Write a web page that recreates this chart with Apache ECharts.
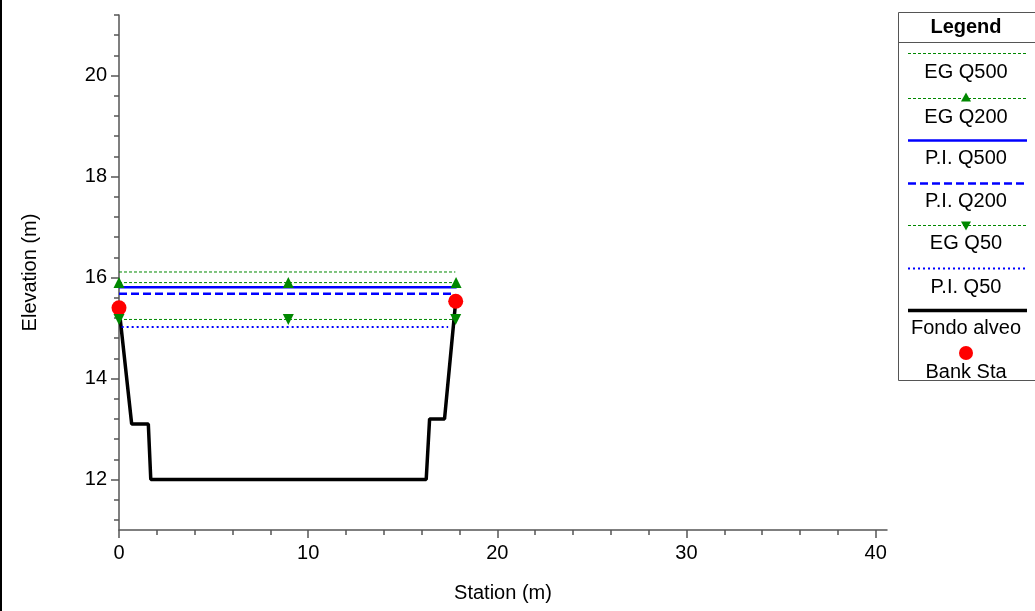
<!DOCTYPE html>
<html>
<head>
<meta charset="utf-8">
<script src="https://cdn.jsdelivr.net/npm/echarts@6/dist/echarts.min.js"></script>
<style>
html,body{margin:0;padding:0;background:#fff;}
#chart{width:1035px;height:611px;}
</style>
</head>
<body>
<div id="chart"></div>
<script>
// ---- data ----
const groundStation = [0, 0.67, 1.55, 1.68, 16.24, 16.42, 17.21, 17.8];
const groundElev    = [15.40, 13.10, 13.10, 12.0, 12.0, 13.20, 13.20, 15.53];
const bankStation = [0, 17.8];
const bankElev    = [15.40, 15.53];
const egQ500Station = [0, 17.78];
const egQ500Elev = 16.11;
const egQ200Station = [0, 8.95, 17.82];
const egQ200Elev = 15.90;
const piQ500Station = [0, 17.85];
const piQ500Elev = 15.81;
const piQ200Station = [0, 17.6];
const piQ200Elev = 15.68;
const egQ50Station = [0, 8.95, 17.8];
const egQ50Elev = 15.17;
const piQ50Station = [0.14, 17.4];
const piQ50Elev = 15.02;
const xMajorTicks = [0, 10, 20, 30, 40];
const yMajorTicks = [12, 14, 16, 18, 20];
const legendNames = ['EG Q500','EG Q200','P.I. Q500','P.I. Q200','EG Q50','P.I. Q50','Fondo alveo','Bank Sta'];

// ---- helpers ----
const FONT = '"Liberation Sans", Arial, sans-serif';
function pairs(xs, ys){ return xs.map((x,i)=>[x, Array.isArray(ys)? ys[i] : ys]); }
function minorTicks(min, max, step, majors){
  const out=[]; const n=Math.round((max-min)/step);
  for(let i=0;i<=n;i++){ const v=+(min+i*step).toFixed(4); if(!majors.some(m=>Math.abs(m-v)<1e-6)) out.push(v);} return out;
}
const xMinor = minorTicks(0, 40, 2, xMajorTicks);
const yMinor = minorTicks(11.2, 21.2, 0.4, yMajorTicks);
const axisCol = '#555';
const GREEN = '#008800', BLUE = '#0000ff';

const chart = echarts.init(document.getElementById('chart'), null, {renderer:'canvas'});

const styles = {
  'EG Q500': {color:GREEN, width:1, type:[3,2], symbol:'none'},
  'EG Q200': {color:GREEN, width:1, type:[3,2], symbol:'triangle', rot:0},
  'P.I. Q500': {color:BLUE, width:2.5, type:'solid', symbol:'none'},
  'P.I. Q200': {color:BLUE, width:2.5, type:[8,4], symbol:'none'},
  'EG Q50': {color:GREEN, width:1, type:[3,2], symbol:'triangle', rot:180},
  'P.I. Q50': {color:BLUE, width:2, type:[2,3], symbol:'none'},
  'Fondo alveo': {color:'#000', width:3.5, type:'solid', symbol:'none'}
};
function lineSeries(name, data){
  const s = styles[name];
  return {name, type:'line', data, xAxisIndex:0, yAxisIndex:0, animation:false,
    symbol:s.symbol, symbolSize:11, symbolRotate:s.rot||0, showSymbol:s.symbol!=='none',
    itemStyle:{color:s.color, opacity:1}, lineStyle:{color:s.color, width:s.width, type:s.type}, z:3};
}

// ---- legend graphics ----
const LX0 = 908, LX1 = 1027, LCX = 966;
const legRows = [[53,72],[98,117],[140,158],[183,201],[225,243],[268,287],[310,328],[353,372]];
const graphics = [
  {type:'line', shape:{x1:1,y1:0,x2:1,y2:611}, style:{stroke:'#000', lineWidth:2}},
  {type:'rect', shape:{x:898.5,y:12.5,width:140,height:368}, style:{fill:'#fff', stroke:'#555', lineWidth:1}},
  {type:'line', shape:{x1:898.5,y1:42.5,x2:1035,y2:42.5}, style:{stroke:'#555', lineWidth:1}},
  {type:'text', x:LCX, y:27, style:{text:'Legend', font:'bold 20px '+FONT, fill:'#000', align:'center', verticalAlign:'middle'}}
];
legendNames.forEach((nm, i)=>{
  const [ly, ty] = legRows[i];
  if (nm === 'Bank Sta') {
    graphics.push({type:'circle', shape:{cx:LCX, cy:ly, r:7}, style:{fill:'#ff0000'}});
  } else {
    const s = styles[nm];
    graphics.push({type:'line', shape:{x1:LX0,y1:ly+0.5,x2:LX1,y2:ly+0.5},
      style:{stroke:s.color, lineWidth:s.width, lineDash: Array.isArray(s.type)? s.type : null}});
    if (s.symbol === 'triangle') {
      const up = s.rot === 0;
      const h = 9, w = 10;
      const pts = up ? [[LCX, ly-h/2-1],[LCX-w/2, ly+h/2-1],[LCX+w/2, ly+h/2-1]]
                     : [[LCX, ly+h/2+1],[LCX-w/2, ly-h/2+1],[LCX+w/2, ly-h/2+1]];
      graphics.push({type:'polygon', shape:{points:pts}, style:{fill:s.color}});
    }
  }
  graphics.push({type:'text', x:LCX, y:ty, style:{text:nm, font:'20px '+FONT, fill:'#000', align:'center', verticalAlign:'middle'}});
});

const option = {
  backgroundColor:'#fff',
  animation:false,
  grid:{left:119, right:148, top:15, bottom:81, containLabel:false},
  xAxis:[
    {type:'value', min:0, max:40.6, position:'bottom',
     name:'Station (m)', nameLocation:'middle', nameGap:53,
     nameTextStyle:{fontFamily:FONT, fontSize:20, color:'#000'},
     axisLine:{show:true, onZero:false, lineStyle:{color:axisCol, width:1.5}},
     axisTick:{show:true, length:8, customValues:xMajorTicks, lineStyle:{color:axisCol, width:1.5}},
     axisLabel:{show:true, customValues:xMajorTicks, margin:13, fontFamily:FONT, fontSize:20, color:'#000'},
     splitLine:{show:false}},
    {type:'value', min:0, max:40.6, position:'bottom',
     axisLine:{show:false, onZero:false},
     axisTick:{show:true, length:5, customValues:xMinor, lineStyle:{color:axisCol, width:1.5}},
     axisLabel:{show:false}, splitLine:{show:false}}
  ],
  yAxis:[
    {type:'value', min:11, max:21.2, position:'left',
     name:'Elevation (m)', nameLocation:'middle', nameGap:79, nameRotate:90,
     nameTextStyle:{fontFamily:FONT, fontSize:20, color:'#000'},
     axisLine:{show:true, onZero:false, lineStyle:{color:axisCol, width:1.5}},
     axisTick:{show:true, length:8, customValues:yMajorTicks, lineStyle:{color:axisCol, width:1.5}},
     axisLabel:{show:true, customValues:yMajorTicks, margin:12, fontFamily:FONT, fontSize:20, color:'#000'},
     splitLine:{show:false}},
    {type:'value', min:11, max:21.2, position:'left',
     axisLine:{show:false, onZero:false},
     axisTick:{show:true, length:5, customValues:yMinor, lineStyle:{color:axisCol, width:1.5}},
     axisLabel:{show:false}, splitLine:{show:false}}
  ],
  series:[
    lineSeries('Fondo alveo', pairs(groundStation, groundElev)),
    lineSeries('EG Q500', pairs(egQ500Station, egQ500Elev)),
    lineSeries('P.I. Q500', pairs(piQ500Station, piQ500Elev)),
    lineSeries('P.I. Q200', pairs(piQ200Station, piQ200Elev)),
    lineSeries('P.I. Q50', pairs(piQ50Station, piQ50Elev)),
    {name:'Bank Sta', type:'scatter', data:pairs(bankStation, bankElev), symbol:'circle', symbolSize:15,
     itemStyle:{color:'#ff0000', opacity:1}, z:4, animation:false},
    Object.assign(lineSeries('EG Q200', pairs(egQ200Station, egQ200Elev)), {z:5}),
    Object.assign(lineSeries('EG Q50', pairs(egQ50Station, egQ50Elev)), {z:5})
  ],
  graphic:graphics
};
chart.setOption(option);
</script>
</body>
</html>
